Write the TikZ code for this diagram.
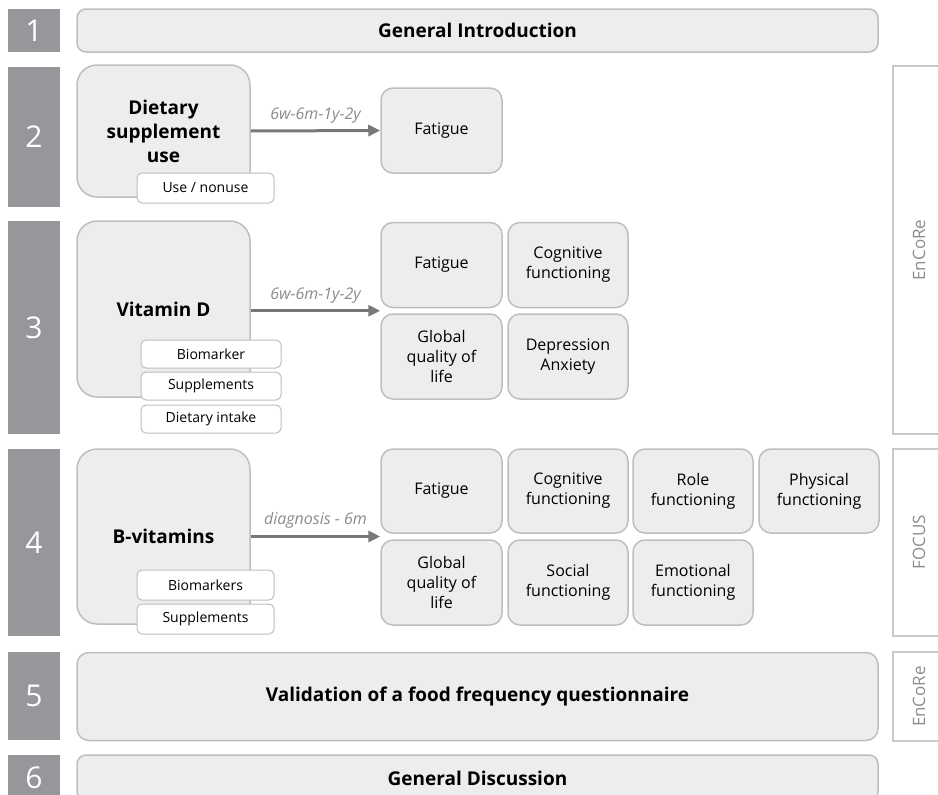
\documentclass[tikz,border=0pt]{standalone}
\usepackage{fontspec}
\setmainfont{Open Sans}
\usetikzlibrary{arrows.meta,calc}
\definecolor{thNumber}{HTML}{95979A}
\definecolor{thFill}{HTML}{EDEDED}
\definecolor{thLine}{HTML}{BDBEBF}
\definecolor{thArrow}{HTML}{77787B}
\definecolor{thTiming}{HTML}{8A8B8D}
\definecolor{thCohort}{HTML}{C8C9CA}
\definecolor{thCohortText}{HTML}{8C8D8F}

\begin{document}
\begin{tikzpicture}[
    x=1pt, y=-1pt,
    chapnum/.style={fill=thNumber, text=white, minimum width=52pt, inner sep=0pt, font=\fontsize{30}{30}\selectfont},
    wide/.style={draw=thLine, fill=thFill, line width=1.5pt, rounded corners=9pt, minimum width=801pt, inner sep=0pt, font=\fontsize{19}{23}\selectfont\bfseries},
    topic/.style={draw=thLine, fill=thFill, line width=1.5pt, rounded corners=20pt, minimum width=173pt, inner sep=0pt, align=center, font=\fontsize{19}{24}\selectfont\bfseries},
    outcome/.style={draw=thLine, fill=thFill, line width=1.5pt, rounded corners=12pt, minimum width=121pt, minimum height=85pt, inner sep=0pt, align=center, font=\fontsize{16}{20}\selectfont},
    tag/.style={draw=thLine, fill=white, line width=1pt, rounded corners=5pt, minimum width=137pt, minimum height=30pt, inner sep=0pt, font=\fontsize{14}{14}\selectfont},
    link/.style={draw=thArrow, line width=3pt, -{Triangle[length=12pt,width=11pt]}},
    timing/.style={font=\fontsize{16}{16}\selectfont\itshape, text=thTiming, above=3pt, midway},
    cohort/.style={draw=thCohort, line width=2pt},
    cohortname/.style={rotate=90, text=thCohortText, font=\fontsize{17}{17}\selectfont}
]
\useasboundingbox (0,0) rectangle (938,795);

% ===== CHAPTER 1 =====
\node[chapnum, minimum height=43pt] (n1) at (34,30.5) {1};
\node[wide, minimum height=43pt] (intro) at (477.5,30.5) {General Introduction};

% ===== CHAPTER 2 =====
\node[chapnum, minimum height=140pt] (n2) at (34,137) {2};
\node[topic, minimum height=132pt] (supp) at (163.5,131) {Dietary\\supplement\\use};
\node[tag] (use) at (205.5,188) {Use / nonuse};
\node[outcome] (fat2) at (441.5,130.5) {Fatigue};
\draw[link] (supp.east) -- (fat2.west) node[timing] {6w-6m-1y-2y};

% ===== CHAPTER 3 =====
\node[chapnum, minimum height=213pt] (n3) at (34,327.5) {3};
\node[topic, minimum height=176pt] (vitd) at (163.5,309) {Vitamin D};
\node[tag, minimum width=140pt, minimum height=28pt] (bio3) at (211,354) {Biomarker};
\node[tag, minimum width=140pt, minimum height=28pt] (sup3) at (211,386) {Supplements};
\node[tag, minimum width=140pt, minimum height=28pt] (diet3) at (211,419) {Dietary intake};
\node[outcome] (fat3) at (441.5,265) {Fatigue};
\node[outcome, minimum width=120pt] (cog3) at (568,265) {Cognitive\\functioning};
\node[outcome] (qol3) at (441.5,356.5) {Global\\quality of\\life};
\node[outcome, minimum width=120pt] (dep3) at (568,356.5) {Depression\\Anxiety};
\coordinate (in3) at ($(fat3.south west)!0.5!(qol3.north west)$);
\draw[link] (vitd.east |- in3) -- (in3) node[timing] {6w-6m-1y-2y};

% ===== CHAPTER 4 =====
\node[chapnum, minimum height=187pt] (n4) at (34,542.5) {4};
\node[topic, minimum height=175pt] (bvit) at (163.5,536.5) {B-vitamins};
\node[tag] (bio4) at (205.5,585) {Biomarkers};
\node[tag] (sup4) at (205.5,619) {Supplements};
\node[outcome, minimum height=84pt] (fat4) at (441.5,491) {Fatigue};
\node[outcome, minimum width=120pt, minimum height=84pt] (cog4) at (568,491) {Cognitive\\functioning};
\node[outcome, minimum width=120pt, minimum height=84pt] (role4) at (693,491) {Role\\functioning};
\node[outcome, minimum width=120pt, minimum height=84pt] (phys4) at (819,491) {Physical\\functioning};
\node[outcome] (qol4) at (441.5,582.5) {Global\\quality of\\life};
\node[outcome, minimum width=120pt] (soc4) at (568,582.5) {Social\\functioning};
\node[outcome, minimum width=120pt] (emo4) at (693,582.5) {Emotional\\functioning};
\coordinate (in4) at ($(fat4.south west)!0.5!(qol4.north west)$);
\draw[link] (bvit.east |- in4) -- (in4) node[timing] {diagnosis - 6m};

% ===== CHAPTER 5 =====
\node[chapnum, minimum height=88pt] (n5) at (34,696) {5};
\node[wide, minimum height=88pt, rounded corners=12pt] (ffq) at (477.5,696.5) {Validation of a food frequency questionnaire};

% ===== CHAPTER 6 =====
\node[chapnum, minimum height=46pt] (n6) at (34,778) {6};
\node[wide, minimum height=46pt] (disc) at (477.5,778) {General Discussion};

% ===== COHORTS =====
\draw[cohort] (893,66) rectangle (960,434);
\node[cohortname] (encore1) at (919,250) {EnCoRe};
\draw[cohort] (893,449) rectangle (960,636);
\node[cohortname] (focus) at (919,542.5) {FOCUS};
\draw[cohort] (893,652) rectangle (960,741);
\node[cohortname] (encore2) at (919,696.5) {EnCoRe};

\end{tikzpicture}
\end{document}
